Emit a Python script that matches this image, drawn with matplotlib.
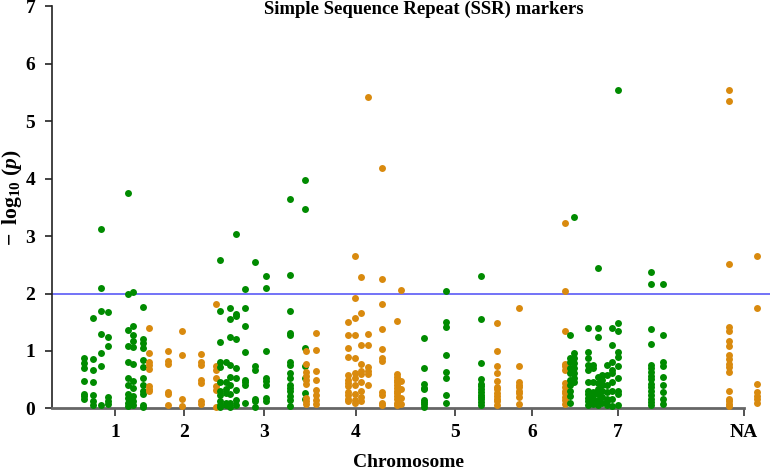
import matplotlib
matplotlib.use('Agg')
import matplotlib.pyplot as plt

plt.rcParams['font.family'] = 'Liberation Serif'
plt.rcParams['font.weight'] = 'bold'
plt.rcParams['mathtext.fontset'] = 'custom'
plt.rcParams['mathtext.rm'] = 'Liberation Serif:bold'
plt.rcParams['mathtext.it'] = 'Liberation Serif:bold:italic'

# chromosome labels and their centre positions (Mb, cumulative)
chrom_names = ['1', '2', '3', '4', '5', '6', '7', 'NA']
chrom_centers = [63.3, 131.7, 212.3, 303.7, 403.3, 480.3, 565.7, 692]

# marker positions (cumulative) with the chromosome index of each position
pos = [32, 41, 49, 56, 76, 81, 91,
       97, 116, 130, 149, 164,
       168, 174, 178, 184, 193, 203, 214, 238, 253,
       254, 264, 296, 303, 309, 316, 330, 345, 349,
       372, 394, 429,
       445, 467, 513,
       518, 522, 536, 541, 546, 550, 555, 560, 566, 599, 611,
       677, 705]
chrom_idx = [0, 0, 0, 0, 0, 0, 0,
             1, 1, 1, 1, 1,
             2, 2, 2, 2, 2, 2, 2, 2, 2,
             3, 3, 3, 3, 3, 3, 3, 3, 3,
             4, 4, 4,
             5, 5, 5,
             6, 6, 6, 6, 6, 6, 6, 6, 6, 6, 6,
             7, 7]
logp = [
    [0.88, 0.79, 0.70, 0.47, 0.25, 0.21, 0.17],
    [1.57, 0.86, 0.67, 0.45, 0.24, 0.12, 0.06],
    [3.13, 2.10, 1.69, 1.30, 0.97, 0.74, 0.05],
    [1.67, 1.25, 1.09, 0.20, 0.13, 0.07],
    [3.75, 2.00, 1.37, 1.08, 0.80, 0.52, 0.40, 0.25, 0.18, 0.10, 0.04],
    [2.02, 1.43, 1.28, 1.18, 1.06, 0.78, 0.47, 0.36, 0.22, 0.12, 0.05],
    [1.77, 1.20, 1.13, 1.05, 0.84, 0.72, 0.52, 0.40, 0.30, 0.25, 0.06, 0.03],
    [1.40, 0.97, 0.80, 0.75, 0.68, 0.38, 0.34, 0.30],
    [0.99, 0.83, 0.77, 0.29, 0.25, 0.05],
    [1.34, 0.92, 0.17, 0.04],
    [0.95, 0.81, 0.76, 0.49, 0.44, 0.12, 0.08],
    [1.81, 0.73, 0.66, 0.53, 0.38, 0.32, 0.02],
    [2.59, 1.70, 1.15, 0.80, 0.72, 0.46, 0.30, 0.24, 0.12, 0.05, 0.02],
    [0.80, 0.45, 0.33, 0.26, 0.10, 0.06],
    [1.75, 1.55, 1.25, 0.75, 0.55, 0.40, 0.25, 0.10, 0.03],
    [3.03, 1.65, 1.60, 1.20, 0.70, 0.52, 0.32, 0.15, 0.05],
    [2.08, 1.74, 1.43, 0.98, 0.49, 0.45, 0.41, 0.10],
    [2.55, 0.73, 0.66, 0.17, 0.12, 0.03],
    [2.30, 2.10, 0.99, 0.53, 0.47, 0.41, 0.18, 0.13],
    [3.65, 2.33, 1.70, 1.32, 1.27, 0.80, 0.75, 0.62, 0.52, 0.40, 0.35, 0.30, 0.22, 0.15, 0.04],
    [3.98, 3.48, 1.05, 0.73, 0.52, 0.26, 0.16],
    [0.99, 0.77, 0.63, 0.57, 0.50, 0.42, 0.18, 0.12, 0.07],
    [1.32, 1.02, 0.65, 0.49, 0.32, 0.24, 0.15, 0.07],
    [1.50, 1.28, 1.05, 0.90, 0.58, 0.49, 0.44, 0.38, 0.29, 0.23, 0.16, 0.12],
    [2.65, 1.93, 1.57, 1.27, 0.87, 0.62, 0.52, 0.40, 0.25, 0.15, 0.09],
    [2.29, 1.66, 1.11, 0.78, 0.65, 0.60, 0.45, 0.30, 0.20, 0.12],
    [5.42, 1.29, 1.10, 0.72, 0.65, 0.60, 0.40],
    [4.19, 2.26, 1.82, 1.38, 1.04, 0.87, 0.82, 0.28, 0.23, 0.10, 0.05],
    [1.52, 0.59, 0.55, 0.50, 0.45, 0.40, 0.35, 0.30, 0.26, 0.21, 0.16, 0.10, 0.06],
    [2.06, 0.48, 0.33, 0.18, 0.08],
    [1.22, 0.71, 0.43, 0.36, 0.33, 0.14, 0.11, 0.07, 0.03],
    [2.04, 1.51, 1.41, 0.92, 0.63, 0.53, 0.23, 0.09],
    [2.31, 1.55, 0.79, 0.51, 0.42, 0.38, 0.33, 0.29, 0.24, 0.20, 0.16, 0.11, 0.06],
    [1.49, 0.99, 0.73, 0.61, 0.48, 0.37, 0.33, 0.27, 0.22, 0.16, 0.12, 0.06],
    [1.74, 0.74, 0.46, 0.41, 0.37, 0.31, 0.26, 0.20, 0.07],
    [3.23, 2.05, 1.34, 0.77, 0.73, 0.67, 0.44, 0.37, 0.31, 0.26, 0.20, 0.14, 0.08],
    [1.28, 0.88, 0.80, 0.70, 0.62, 0.50, 0.40, 0.30, 0.22, 0.10],
    [3.33, 0.97, 0.88, 0.79, 0.70, 0.62, 0.53, 0.45],
    [1.40, 0.98, 0.87, 0.76, 0.67, 0.46, 0.30, 0.25, 0.18, 0.12, 0.06],
    [0.76, 0.70, 0.46, 0.29, 0.24, 0.17, 0.08],
    [2.44, 1.40, 1.24, 0.55, 0.44, 0.34, 0.25, 0.15, 0.06],
    [0.58, 0.50, 0.40, 0.30, 0.20, 0.10],
    [0.76, 0.58, 0.41, 0.29, 0.17, 0.12, 0.05],
    [1.40, 1.10, 0.81, 0.67, 0.61, 0.46, 0.30, 0.17, 0.04],
    [5.55, 1.49, 1.34, 0.98, 0.90, 0.73, 0.52, 0.30, 0.25, 0.06],
    [2.37, 2.16, 1.38, 1.12, 0.76, 0.70, 0.64, 0.57, 0.51, 0.43, 0.37, 0.31, 0.23, 0.17, 0.11, 0.05],
    [2.16, 1.28, 0.81, 0.73, 0.55, 0.40, 0.29, 0.17, 0.08],
    [5.54, 5.36, 2.51, 1.41, 1.34, 1.17, 1.08, 0.93, 0.86, 0.78, 0.72, 0.64, 0.30, 0.17, 0.12, 0.08, 0.04],
    [2.66, 1.74, 0.42, 0.28, 0.22, 0.17, 0.10],
]
threshold = 2
colors = ['#008B00', '#D98A0E']

fig = plt.figure(figsize=(7.78, 4.69), dpi=100)
ax = fig.add_axes([52/778, 1-408.3/469, 718/778, 401.8/469])

for p, c, vals in zip(pos, chrom_idx, logp):
    ax.scatter([p]*len(vals), vals, s=25, color=colors[c % 2], lw=0, clip_on=False, zorder=3)

ax.axhline(threshold, color='#4B4BF5', lw=1.1, zorder=2)

ax.set_xlim(0, 718)
ax.set_ylim(0, 7)
ax.set_xticks(chrom_centers)
ax.set_xticklabels(chrom_names)
ax.set_yticks(range(8))
for s in ['top', 'right']:
    ax.spines[s].set_visible(False)
ax.spines['left'].set_bounds(0, 7)
ax.spines['left'].set_linewidth(1.2)
ax.spines['left'].set_color('#222222')
ax.spines['bottom'].set_bounds(0, 692)
ax.spines['bottom'].set_linewidth(2)
ax.spines['bottom'].set_color('#666666')
ax.tick_params(axis='y', length=5, width=1.2, pad=7, labelsize=14, color='#222222')
ax.tick_params(axis='x', length=6, width=1.2, pad=5, labelsize=14, color='#333333')

fig.text(424/778, 1-9/469, 'Simple Sequence Repeat (SSR) markers', ha='center', va='center',
         fontsize=13.5, fontweight='bold')
fig.text(408/778, 1-462/469, 'Chromosome', ha='center', va='center', fontsize=14, fontweight='bold')
fig.text(12/778, 1-198/469, r'$-\;\;\log_{10}\,(\mathit{p})$', ha='center', va='center',
         rotation=90, fontsize=15.5)

fig.savefig('out.png', dpi=100)
